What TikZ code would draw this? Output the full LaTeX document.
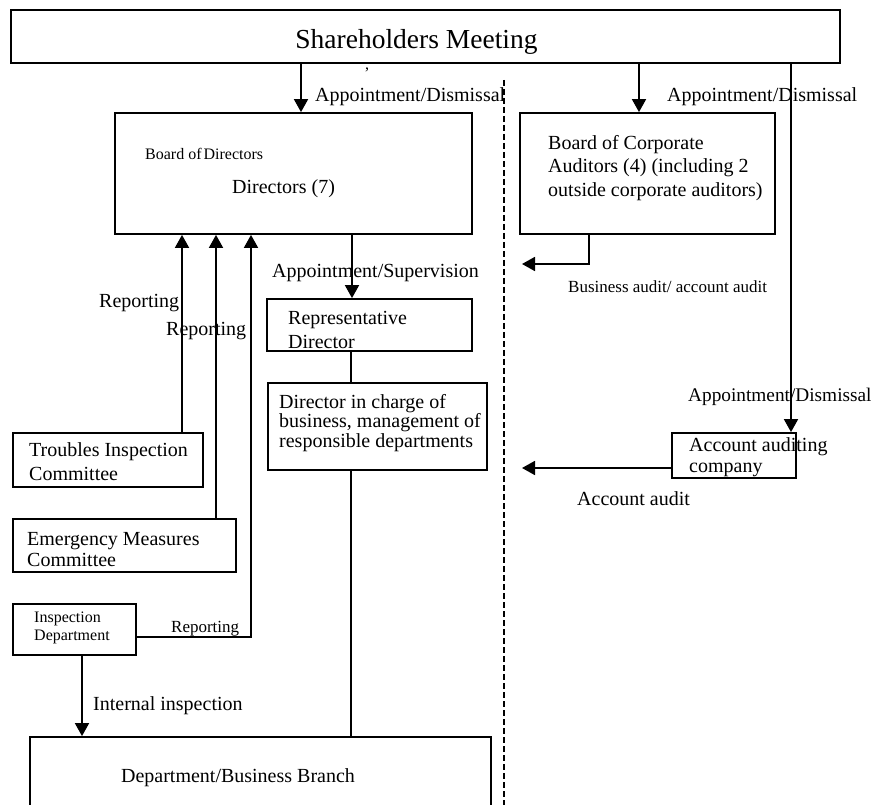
\documentclass[tikz,border=0pt]{standalone}
\usepackage{fontspec}
\setmainfont{Liberation Serif}
\usetikzlibrary{arrows.meta}
\tikzset{
  box/.style={draw, line width=1.8pt, rectangle, inner sep=0pt},
  ln/.style={line width=1.8pt},
  arr/.style={line width=1.8pt, -{Triangle[length=13pt,width=14pt]}},
  divider/.style={line width=1.5pt, dash pattern=on 6pt off 3pt},
  lbl/.style={inner sep=0pt, anchor=west, font=\fontsize{20}{24}\selectfont},
  slbl/.style={inner sep=0pt, anchor=west, font=\fontsize{17}{20}\selectfont},
  blk/.style={inner sep=0pt, anchor=north west, align=left},
}
\begin{document}
\begin{tikzpicture}[x=1pt,y=-1pt]
\useasboundingbox (0,0) rectangle (879,805);
\clip (0,0) rectangle (879,805);
\fill[white] (0,0) rectangle (879,805);

% boxes
\node[box, minimum width=829pt, minimum height=53pt] (sh) at (425.5,36.5) {};
\node[inner sep=0pt, font=\fontsize{27.5}{32}\selectfont] (sht) at (416.5,42) {Shareholders Meeting};

\node[box, minimum width=357pt, minimum height=121pt] (bod) at (293.5,173.5) {};
\node[inner sep=0pt, anchor=west, font=\fontsize{16}{19}\selectfont] (bodt1) at (145,154) {Board of\hspace{2pt}Directors};
\node[lbl] (bodt2) at (232,189) {Directors (7)};

\node[box, minimum width=255pt, minimum height=121pt] (bca) at (647.5,173.5) {};
\node[blk, font=\fontsize{20}{23.5}\selectfont] (bcat) at (548,134.8) {Board of Corporate\\Auditors (4) (including 2\\outside corporate auditors)};

\node[box, minimum width=205pt, minimum height=52pt] (rep) at (369.5,325) {};
\node[blk, font=\fontsize{20}{24}\selectfont] (rept) at (288,310.8) {Representative\\Director};

\node[box, minimum width=219pt, minimum height=87pt] (dic) at (377.5,426.5) {};
\node[blk, font=\fontsize{20}{19.5}\selectfont] (dict) at (279,393.8) {Director in charge of\\business, management of\\responsible departments};

\node[box, minimum width=190pt, minimum height=54pt] (tic) at (108,460) {};
\node[blk, font=\fontsize{20}{24}\selectfont] (tict) at (29,442.8) {Troubles Inspection\\Committee};

\node[box, minimum width=223pt, minimum height=53pt] (emc) at (124.5,545.5) {};
\node[blk, font=\fontsize{20}{21}\selectfont] (emct) at (27,531.8) {Emergency Measures\\Committee};

\node[box, minimum width=123pt, minimum height=51pt] (ind) at (74.5,629.5) {};
\node[blk, font=\fontsize{16}{17.5}\selectfont] (indt) at (34,612.2) {Inspection\\Department};

\node[box, minimum width=461pt, minimum height=103pt] (dbb) at (260.5,788.5) {};
\node[inner sep=0pt, font=\fontsize{20}{24}\selectfont] (dbbt) at (238,778) {Department/Business Branch};

\node[box, minimum width=124pt, minimum height=45pt] (aac) at (734,455.5) {};
\node[blk, font=\fontsize{20}{21}\selectfont] (aact) at (689,437.8) {Account auditing\\company};

% divider
\coordinate (d1) at (504,80);
\coordinate (d2) at (504,805);
\draw[divider] (d1) -- (d2);

% connector x positions
\coordinate (x1) at (301,0);
\coordinate (x2) at (639,0);
\coordinate (x3) at (791,0);
\coordinate (x4) at (589,0);
\coordinate (x5) at (352,0);
\coordinate (x6) at (351,0);
\coordinate (x7) at (182,0);
\coordinate (x8) at (216,0);
\coordinate (x9) at (82,0);
\coordinate (ba) at (522,264);
\coordinate (aa) at (522,468);
\coordinate (rp) at (251,637);

% connectors
\draw[arr] (sh.south -| x1) -- (bod.north -| x1);
\draw[arr] (sh.south -| x2) -- (bca.north -| x2);
\draw[arr] (sh.south -| x3) -- (aac.north -| x3);
\draw[arr] (bca.south -| x4) |- (ba);
\draw[arr] (aac.west |- aa) -- (aa);
\draw[arr] (bod.south -| x5) -- (rep.north -| x5);
\draw[ln] (rep.south -| x6) -- (dic.north -| x6);
\draw[ln] (dic.south -| x6) -- (dbb.north -| x6);
\draw[arr] (tic.north -| x7) -- (bod.south -| x7);
\draw[arr] (emc.north -| x8) -- (bod.south -| x8);
\draw[arr] (ind.east |- rp) -- (rp) -- (bod.south -| rp);
\draw[arr] (ind.south -| x9) -- (dbb.north -| x9);

% labels
\node[inner sep=0pt, font=\fontsize{16}{19}\selectfont] (cm) at (367,70) {,};
\node[lbl] (l1) at (315,97) {Appointment/Dismissal};
\node[lbl] (l2) at (667,97) {Appointment/Dismissal};
\node[lbl, font=\fontsize{19.3}{23}\selectfont] (l3) at (688,397) {Appointment/Dismissal};
\node[lbl] (l4) at (272,273) {Appointment/Supervision};
\node[lbl] (l5) at (99,303) {Reporting};
\node[lbl] (l6) at (166,331) {Reporting};
\node[slbl] (l7) at (171,629) {Reporting};
\node[slbl] (l8) at (568,287) {Business audit/ account audit};
\node[lbl] (l9) at (577,499) {Account audit};
\node[lbl] (l10) at (93,706) {Internal inspection};
\end{tikzpicture}
\end{document}
